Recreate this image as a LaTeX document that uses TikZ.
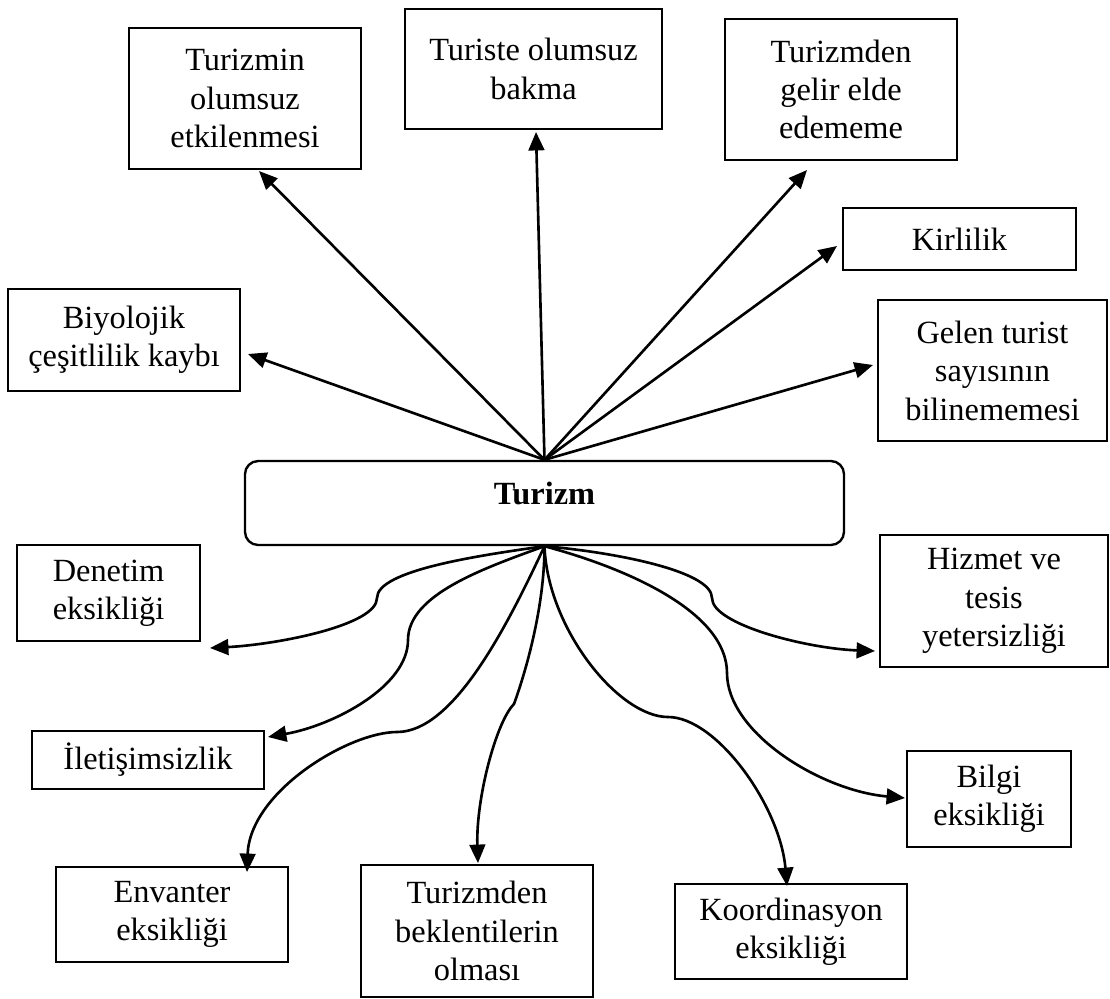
\documentclass[tikz,border=0pt]{standalone}
\usepackage{fontspec}
\setmainfont{Liberation Serif}
\usetikzlibrary{arrows.meta}
\newdimen\pxu
\pxu=0.38pt

\begin{document}
\begin{tikzpicture}[x=0.38pt,y=-0.38pt,
  box/.style={draw,line width=0.75pt,align=center,inner sep=0pt,
    font=\fontsize{12.3}{14.6}\selectfont},
  hub/.style={box,line width=0.9pt,rounded corners=5pt,text height=8pt,text depth=7pt},
  arr/.style={line width=1pt,-{Triangle[length=7pt,width=6pt]}}]
  \useasboundingbox (0,0) rectangle (1110,998);
  % Centre
  \node[hub,minimum width=599\pxu,minimum height=84\pxu] (turizm) at (544.5,503) {\textbf{Turizm}};
  % Upper boxes
  \node[box,minimum width=232\pxu,minimum height=102\pxu] (bio) at (124,340) {Biyolojik\\çeşitlilik kaybı};
  \node[box,minimum width=232\pxu,minimum height=141\pxu] (etki) at (245,98.5) {Turizmin\\olumsuz\\etkilenmesi};
  \node[box,minimum width=257\pxu,minimum height=120\pxu] (bakma) at (533.5,69) {Turiste olumsuz\\bakma};
  \node[box,minimum width=232\pxu,minimum height=141\pxu] (gelir) at (841,89.5) {Turizmden\\gelir elde\\edememe};
  \node[box,minimum width=233\pxu,minimum height=62\pxu] (kir) at (959.5,239) {Kirlilik};
  \node[box,minimum width=229\pxu,minimum height=141\pxu] (gelen) at (992.5,370.5) {Gelen turist\\sayısının\\bilinememesi};
  % Lower boxes
  \node[box,minimum width=183\pxu,minimum height=96\pxu] (denetim) at (108.5,593) {Denetim\\eksikliği};
  \node[box,minimum width=232\pxu,minimum height=58\pxu] (ilet) at (148,760) {İletişimsizlik};
  \node[box,minimum width=232\pxu,minimum height=95\pxu] (envanter) at (172,914.5) {Envanter\\eksikliği};
  \node[box,minimum width=232\pxu,minimum height=132\pxu] (bekl) at (477,931) {Turizmden\\beklentilerin\\olması};
  \node[box,minimum width=232\pxu,minimum height=95\pxu] (koord) at (791,931.5) {Koordinasyon\\eksikliği};
  \node[box,minimum width=164\pxu,minimum height=96\pxu] (bilgi) at (989,799) {Bilgi\\eksikliği};
  \node[box,minimum width=228\pxu,minimum height=132\pxu] (hizmet) at (994,601) {Hizmet ve\\tesis\\yetersizliği};
  % Arrow ends
  \coordinate (tbio) at (248,354);
  \coordinate (tetki) at (259,171);
  \coordinate (tbakma) at (536,132);
  \coordinate (tgelir) at (807,170);
  \coordinate (tkir) at (837,246);
  \coordinate (tgelen) at (873,365);
  \coordinate (tden) at (210,648);
  \coordinate (tilet) at (268,737);
  \coordinate (tenv) at (247,872);
  \coordinate (tbekl) at (478,863);
  \coordinate (tkoord) at (787,886);
  \coordinate (tbilgi) at (905,798);
  \coordinate (thiz) at (875,651);
  % Straight arrows
  \draw[arr] (turizm.north) -- (tbio);
  \draw[arr] (turizm.north) -- (tetki);
  \draw[arr] (turizm.north) -- (tbakma);
  \draw[arr] (turizm.north) -- (tgelir);
  \draw[arr] (turizm.north) -- (tkir);
  \draw[arr] (turizm.north) -- (tgelen);
  % Curved arrows
  \draw[arr] (turizm.south) to[out=188,in=90,in looseness=0.4] (377,598)
    to[out=270,in=3,out looseness=0.4] (tden);
  \draw[arr] (turizm.south) to[out=200,in=90,in looseness=0.7] (408,640)
    to[out=270,in=10,out looseness=0.7] (tilet);
  \draw[arr] (turizm.south) to[out=245,in=0,in looseness=0.6] (397,732)
    to[out=180,in=88,out looseness=0.6] (tenv);
  \draw[arr] (turizm.south) to[out=270,in=70,in looseness=0.5] (514,704)
    to[out=225,in=92,out looseness=0.4] (tbekl);
  \draw[arr] (turizm.south) to[out=272,in=180,in looseness=0.6] (668,717)
    to[out=0,in=95,out looseness=0.6] (tkoord);
  \draw[arr] (turizm.south) to[out=345,in=90,in looseness=0.7] (727,673)
    to[out=270,in=175,out looseness=0.7] (tbilgi);
  \draw[arr] (turizm.south) to[out=355,in=90,in looseness=0.4] (712,598)
    to[out=270,in=178,out looseness=0.4] (thiz);
\end{tikzpicture}
\end{document}
